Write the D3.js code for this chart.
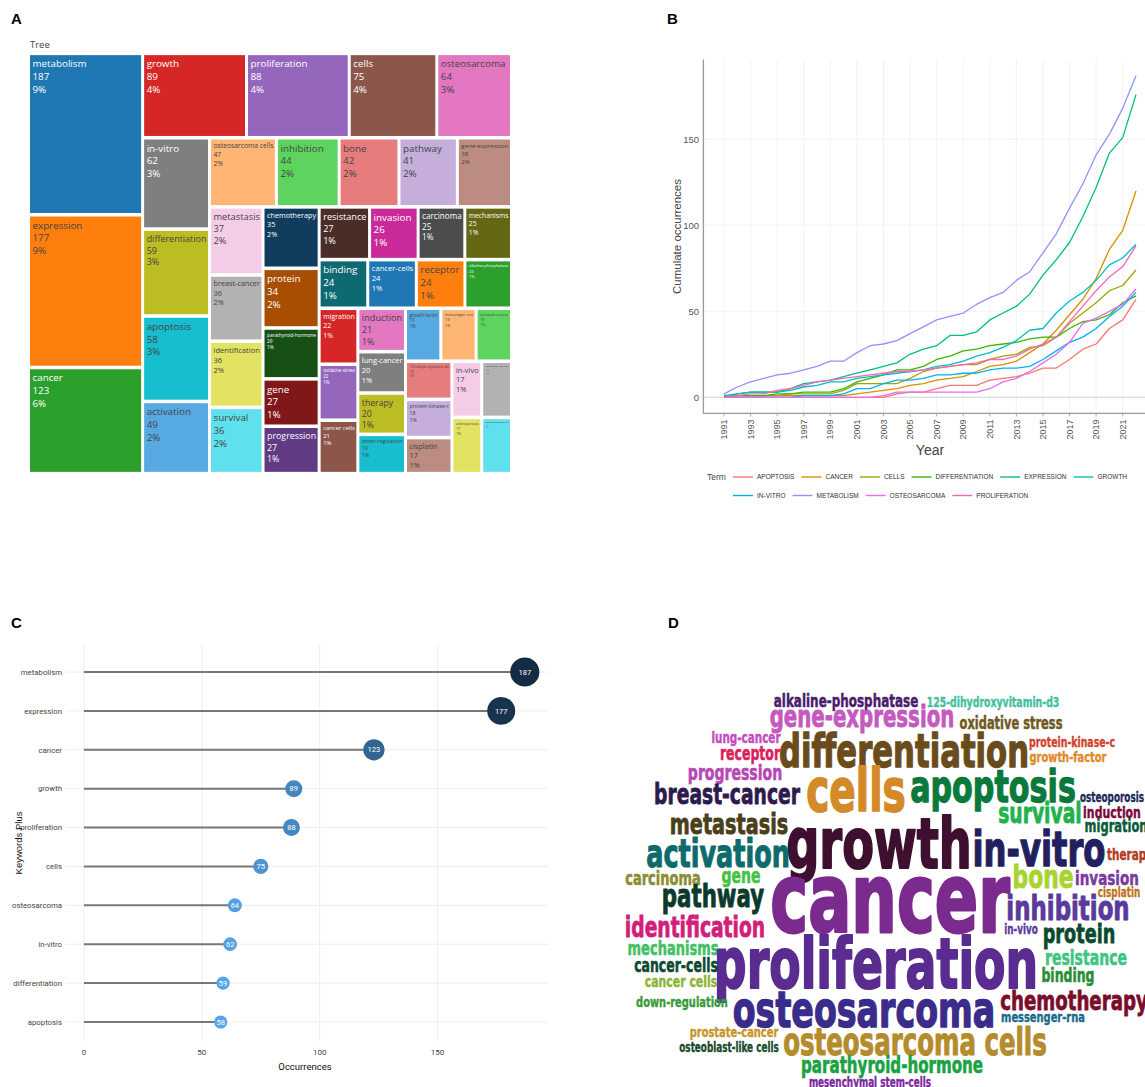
<!DOCTYPE html>
<html>
<head>
<meta charset="utf-8">
<script src="https://cdn.jsdelivr.net/npm/d3@7"></script>
<style>
  html, body { margin: 0; padding: 0; background: #fff; }
  svg { display: block; }
</style>
</head>
<body>
<svg id="fig" width="1145" height="1087"></svg>
<script>
// ---------------- Keyword occurrences (treemap, lollipop, word cloud) ----------------
const keywords = ["metabolism","expression","cancer","growth","proliferation","cells","osteosarcoma","in-vitro",
  "differentiation","apoptosis","activation","osteosarcoma cells","inhibition","bone","pathway","gene-expression",
  "metastasis","breast-cancer","identification","survival","chemotherapy","protein","parathyroid-hormone","gene",
  "progression","resistance","invasion","carcinoma","mechanisms","binding","cancer-cells","receptor",
  "alkaline-phosphatase","migration","oxidative stress","cancer cells","induction","lung-cancer","therapy",
  "down-regulation","growth-factor","messenger-rna","prostate-cancer","125-dihydroxyvitamin-d3","protein-kinase-c",
  "cisplatin","in-vivo","osteoblast-like cells","osteoporosis","mesenchymal stem-cells"];
const keywordCounts = [187,177,123,89,88,75,64,62,59,58,49,47,44,42,41,38,37,36,36,36,35,34,29,27,27,27,26,25,25,
  24,24,24,23,22,22,21,21,20,20,19,19,19,19,18,18,17,17,17,17,17];

// ---------------- Cumulative occurrences per year ----------------
const years = [1991,1992,1993,1994,1995,1996,1997,1998,1999,2000,2001,2002,2003,2004,2005,2006,
  2007,2008,2009,2010,2011,2012,2013,2014,2015,2016,2017,2018,2019,2020,2021,2022];
const termNames = ["APOPTOSIS","CANCER","CELLS","DIFFERENTIATION","EXPRESSION","GROWTH",
  "IN-VITRO","METABOLISM","OSTEOSARCOMA","PROLIFERATION"];
const apoptosisCum      = [0,0,0,0,0,0,0,0,0,0,0,0,0,2,3,3,5,7,7,7,10,11,12,14,17,17,22,28,31,40,45,57];
const cancerCum         = [0,1,1,1,1,1,1,1,1,1,2,3,4,5,7,8,10,11,12,15,18,19,21,26,31,39,48,57,69,86,97,120];
const cellsCum          = [0,1,1,1,1,2,2,2,2,4,8,8,8,8,11,15,17,18,19,19,22,24,25,29,30,35,43,49,55,62,65,74];
const differentiationCum= [0,1,1,1,2,2,3,3,3,5,9,11,13,16,16,18,22,24,27,28,30,31,32,34,35,35,40,44,45,48,55,59];
const expressionCum     = [1,2,3,3,3,5,8,9,10,12,14,16,18,20,25,28,30,36,36,38,45,49,53,60,71,80,90,105,122,142,151,176];
const growthCum         = [0,2,3,3,3,4,6,7,9,9,11,12,13,14,15,16,18,19,21,24,26,29,33,39,40,49,56,61,68,77,81,89];
const inVitroCum        = [0,0,0,0,0,0,1,1,1,2,5,5,8,10,10,11,13,13,14,14,16,17,17,18,22,27,32,35,40,47,53,61];
const metabolismCum     = [2,6,9,11,13,14,16,18,21,21,26,30,31,33,37,41,45,47,49,54,58,61,68,73,84,95,110,124,141,153,168,187];
const osteosarcomaCum   = [0,0,0,0,0,0,0,0,0,0,0,0,1,3,3,3,3,3,3,3,5,9,11,15,20,25,32,43,46,50,54,63];
const proliferationCum  = [0,1,2,2,4,5,7,9,10,11,12,13,14,15,15,16,17,18,19,20,22,22,24,28,31,35,44,53,62,70,76,88];
const termSeries = [apoptosisCum,cancerCum,cellsCum,differentiationCum,expressionCum,growthCum,
  inVitroCum,metabolismCum,osteosarcomaCum,proliferationCum];
const yearTicks = [1991,1993,1995,1997,1999,2001,2003,2005,2007,2009,2011,2013,2015,2017,2019,2021];
const cumTicks = [0,50,100,150];

// ---------------- Lollipop: ten most frequent keywords ----------------
const topWords = keywords.slice(0, 10);
const topCounts = keywordCounts.slice(0, 10);
const occTicks = [0,50,100,150];

// ---------------- Word cloud (terms drawn, placement spots in a 525 x 400 frame) ----------------
const cloudWords = ["alkaline-phosphatase","125-dihydroxyvitamin-d3","gene-expression","oxidative stress","lung-cancer",
  "differentiation","protein-kinase-c","growth-factor","receptor","progression","breast-cancer","cells","apoptosis",
  "osteoporosis","metastasis","growth","survival","induction","migration","activation","in-vitro","therapy",
  "carcinoma","gene","cancer","bone","invasion","cisplatin","pathway","inhibition","identification","in-vivo",
  "protein","mechanisms","proliferation","resistance","cancer-cells","binding","cancer cells","down-regulation",
  "osteosarcoma","chemotherapy","messenger-rna","prostate-cancer","osteoblast-like cells","osteosarcoma cells",
  "parathyroid-hormone","mesenchymal stem-cells"];
const cloudSpots = [[226,17],[373,17],[242,37],[391,39],[126,53],[284,77],[452,57],[448,72],[130,70],[115,90],
  [107,114],[236,121],[373,112],[492,112],[109,144],[259,178],[420,133],[492,128],[496,142],[98,177],[419,176],
  [510,170],[43,195],[121,193],[270,242],[423,198],[487,195],[499,207],[93,217],[448,230],[75,247],[401,244],
  [459,253],[53,265],[256,298],[466,275],[56,282],[448,292],[61,297],[62,317],[244,337],[454,320],[423,332],
  [114,347],[109,362],[295,365],[272,383],[250,397]];
const cloudColors = ["#4a1d6c","#44c0a0","#c45ac0","#6e5a1e","#c34cbe","#6a4c1c","#d1452f","#e08a2a","#dc1e5c",
  "#b548b4","#2e1a4e","#d48a28","#0a7a3c","#1a2858","#4a3f1a","#3e0f2e","#22b24c","#7a0a3c","#0b5a3a","#0e6b6b",
  "#231f5f","#b23c1e","#8c8c32","#46c046","#7b2a8e","#a8d432","#7a3a9e","#c0741e","#0b3a2c","#5a3a9c","#d2207a",
  "#5a3a9c","#0a4a2c","#44c064","#5a2c90","#40c482","#0b4a30","#2a8c34","#8cb43a","#3a9a3a","#3a2c8a","#7a0c2c",
  "#1a6a8a","#c8962c","#1a4a2e","#b48c2c","#1aa244","#7a2a9c"];

// ---------------- Styles ----------------
const colorway = ["#1f77b4","#ff7f0e","#2ca02c","#d62728","#9467bd","#8c564b","#e377c2","#7f7f7f","#bcbd22","#17becf"];
const termColors = ["#F8766D","#D89000","#A3A500","#39B600","#00BF7D","#00BFC4","#00B0F6","#9590FF","#E76BF3","#FF62BC"];

const svg = d3.select("#fig");
const SANS = "'Liberation Sans', Arial, sans-serif";

// panel tags
const tags = [["A",11,24],["B",667,24],["C",11,628],["D",668,628]];
svg.selectAll("text.tag").data(tags).join("text").attr("class","tag")
  .attr("x", d => d[1]).attr("y", d => d[2]).text(d => d[0])
  .style("font-family", SANS).style("font-weight","bold").style("font-size","15px").attr("fill","#000");

// ======================= A: treemap =======================
(function treemapPanel() {
  function shiftL(hex, delta) {
    const c = d3.hsl(hex);
    c.l = Math.max(0, Math.min(1, c.l + delta));
    return c.formatHex();
  }
  // base colours, then lightened and darkened versions
  const palette = colorway.concat(colorway.map(c => shiftL(c, 0.2)), colorway.map(c => shiftL(c, -0.2)));
  const total = d3.sum(keywordCounts);

  svg.append("text").attr("x", 30).attr("y", 47.5).text("Tree")
    .style("font-family","'Open Sans', sans-serif").style("font-size","9.5px").attr("fill","#444");

  // tiles are computed on a slightly flatter frame, then stretched to the panel height
  const W = 480, H = 417, frameH = 381.5;
  const root = d3.hierarchy({children: keywords.map((k, i) => ({name: k, value: keywordCounts[i], idx: i}))})
    .sum(d => d.value || 0);
  d3.treemap().tile(d3.treemapSquarify.ratio(1)).size([W, frameH]).paddingInner(3)(root);
  const sy = d3.scaleLinear().domain([0, frameH]).range([0, H]);
  const gap = 3 * (H / frameH - 1) / 2;

  const g = svg.append("g").attr("transform", "translate(30,55)");
  const leaf = g.selectAll("g").data(root.leaves()).join("g")
    .attr("transform", d => `translate(${d.x0},${sy(d.y0) + gap})`);
  const tileH = d => sy(d.y1) - sy(d.y0) - 2 * gap;
  leaf.append("rect")
    .attr("width", d => d.x1 - d.x0).attr("height", tileH)
    .attr("fill", d => palette[d.data.idx % palette.length]);

  const base = 9.8;
  leaf.each(function(d) {
    const w = d.x1 - d.x0, h = tileH(d);
    const fill = d3.rgb(palette[d.data.idx % palette.length]);
    const light = (fill.r * 299 + fill.g * 587 + fill.b * 114) / 1000 >= 128;
    const lines = [d.data.name, String(d.data.value), Math.round(100 * d.data.value / total) + "%"];
    const t = d3.select(this).append("text")
      .style("font-family","'Open Sans', sans-serif").style("font-size", base + "px")
      .attr("fill", light ? "#444" : "#fff");
    const spans = t.selectAll("tspan").data(lines).join("tspan").attr("x", 2.5).text(s => s);
    const maxW = d3.max(spans.nodes(), n => n.getComputedTextLength());
    const fs = Math.min(base, base * (w - 4) / maxW, (h - 4) / (3 * 1.3));
    t.style("font-size", fs + "px");
    spans.attr("y", (s, j) => 1.8 + fs * 1.05 + j * fs * 1.3);
  });
})();

// ======================= B: cumulative occurrences =======================
(function linePanel() {
  const x = d3.scaleLinear().domain([1989.45, 2023.55]).range([703.4, 1156.6]);
  const y = d3.scaleLinear().domain([-9.35, 196.35]).range([413.4, 59.6]);
  const g = svg.append("g");

  g.selectAll("line.vg").data(yearTicks).join("line")
    .attr("x1", d => x(d)).attr("x2", d => x(d)).attr("y1", y.range()[1]).attr("y2", y.range()[0])
    .attr("stroke", "#efefef").attr("stroke-width", 0.8);
  g.selectAll("line.hg").data(cumTicks).join("line")
    .attr("x1", x.range()[0]).attr("x2", x.range()[1]).attr("y1", d => y(d)).attr("y2", d => y(d))
    .attr("stroke", d => d === 0 ? "#cfcfcf" : "#efefef").attr("stroke-width", d => d === 0 ? 1.1 : 0.8);

  // axis lines and ticks
  g.append("line").attr("x1", x.range()[0]).attr("x2", x.range()[0]).attr("y1", y.range()[1]).attr("y2", y.range()[0])
    .attr("stroke", "#999").attr("stroke-width", 1.3);
  g.append("line").attr("x1", x.range()[0]).attr("x2", x.range()[1]).attr("y1", y.range()[0]).attr("y2", y.range()[0])
    .attr("stroke", "#999").attr("stroke-width", 1.3);
  g.selectAll("line.xt").data(yearTicks).join("line")
    .attr("x1", d => x(d)).attr("x2", d => x(d)).attr("y1", y.range()[0]).attr("y2", y.range()[0] + 3)
    .attr("stroke", "#999").attr("stroke-width", 0.8);

  g.selectAll("text.yl").data(cumTicks).join("text")
    .attr("x", 699).attr("y", d => y(d)).attr("dy", "0.35em").attr("text-anchor", "end")
    .text(d => d).style("font-family", SANS).style("font-size", "9.5px").attr("fill", "#555");
  g.selectAll("text.xl").data(yearTicks).join("text")
    .attr("transform", d => `translate(${x(d)},${y.range()[0] + 6}) rotate(-90)`)
    .attr("dy", "0.35em").attr("text-anchor", "end")
    .text(d => d).style("font-family", SANS).style("font-size", "9px").attr("fill", "#555");

  g.append("text").attr("x", 930).attr("y", 455).attr("text-anchor", "middle").text("Year")
    .style("font-family", SANS).style("font-size", "14px").attr("fill", "#444");
  g.append("text").attr("transform", `translate(681,${(y.range()[0] + y.range()[1]) / 2}) rotate(-90)`)
    .attr("text-anchor", "middle").text("Cumulate occurrences")
    .style("font-family", SANS).style("font-size", "11.5px").attr("fill", "#444");

  const line = d3.line().x((v, i) => x(years[i])).y(v => y(v));
  g.append("g").selectAll("path").data(termSeries).join("path")
    .attr("d", line).attr("fill", "none")
    .attr("stroke", (s, i) => termColors[i]).attr("stroke-width", 1.3).attr("stroke-linejoin", "round");

  // legend
  const lg = g.append("g");
  lg.append("text").attr("x", 707).attr("y", 477).attr("dy", "0.35em").text("Term")
    .style("font-family", SANS).style("font-size", "8.5px").attr("fill", "#444");
  const rows = [[0, 6], [6, 10]];
  const rowY = [477, 495.5];
  rows.forEach((r, ri) => {
    let cx = 733;
    for (let i = r[0]; i < r[1]; i++) {
      lg.append("line").attr("x1", cx).attr("x2", cx + 20).attr("y1", rowY[ri]).attr("y2", rowY[ri])
        .attr("stroke", termColors[i]).attr("stroke-width", 1.4);
      const t = lg.append("text").attr("x", cx + 24).attr("y", rowY[ri]).attr("dy", "0.35em")
        .text(termNames[i]).style("font-family", SANS).style("font-size", "6.5px").attr("fill", "#333");
      cx = cx + 24 + t.node().getComputedTextLength() + 7;
    }
  });
})();

// ======================= C: lollipop =======================
(function lollipopPanel() {
  const x = d3.scaleLinear().domain([0, 196]).range([84, 546]);
  const y = d3.scalePoint().domain(topWords).range([672, 1022]);
  const r = d3.scaleLinear().domain([d3.min(topCounts), d3.max(topCounts)]).range([6.6, 14.6]);
  const col = d3.scaleLinear().domain([d3.min(topCounts), d3.max(topCounts)])
    .range(["#56A6EA", "#132B43"]).interpolate(d3.interpolateLab);
  const g = svg.append("g");
  const LAB = "Roboto, 'Open Sans', sans-serif";

  g.selectAll("line.vg").data(occTicks).join("line")
    .attr("x1", d => x(d)).attr("x2", d => x(d)).attr("y1", 645).attr("y2", 1041)
    .attr("stroke", "#eeeeee").attr("stroke-width", 1);
  g.selectAll("line.hg").data(topWords).join("line")
    .attr("x1", 66).attr("x2", 548).attr("y1", d => y(d)).attr("y2", d => y(d))
    .attr("stroke", "#eeeeee").attr("stroke-width", 1);

  g.selectAll("line.stem").data(topWords).join("line")
    .attr("x1", x(0)).attr("x2", (d, i) => x(topCounts[i])).attr("y1", d => y(d)).attr("y2", d => y(d))
    .attr("stroke", "#777").attr("stroke-width", 2);
  g.selectAll("circle").data(topWords).join("circle")
    .attr("cx", (d, i) => x(topCounts[i])).attr("cy", d => y(d)).attr("r", (d, i) => r(topCounts[i]))
    .attr("fill", (d, i) => col(topCounts[i]));
  g.selectAll("text.val").data(topWords).join("text")
    .attr("x", (d, i) => x(topCounts[i])).attr("y", d => y(d)).attr("dy", "0.35em").attr("text-anchor", "middle")
    .text((d, i) => topCounts[i]).style("font-family", LAB).style("font-size", "7.5px").attr("fill", "#fff");

  g.selectAll("text.cat").data(topWords).join("text")
    .attr("x", 62).attr("y", d => y(d)).attr("dy", "0.35em").attr("text-anchor", "end")
    .text(d => d).style("font-family", LAB).style("font-size", "7.8px").attr("fill", "#444");
  g.selectAll("text.tick").data(occTicks).join("text")
    .attr("x", d => x(d)).attr("y", 1055).attr("text-anchor", "middle")
    .text(d => d).style("font-family", LAB).style("font-size", "8px").attr("fill", "#444");
  g.append("text").attr("x", 305).attr("y", 1070).attr("text-anchor", "middle").text("Occurrences")
    .style("font-family", LAB).style("font-size", "9.5px").attr("fill", "#111");
  g.append("text").attr("transform", "translate(22,843) rotate(-90)").attr("text-anchor", "middle")
    .text("Keywords Plus").style("font-family", SANS).style("font-size", "9.5px").attr("fill", "#111");
})();

// ======================= D: word cloud =======================
(function cloudPanel() {
  const countOf = new Map(keywords.map((k, i) => [k, keywordCounts[i]]));
  const sx = d3.scaleLinear().domain([0, 525]).range([620, 1145]);
  const sy = d3.scaleLinear().domain([0, 400]).range([690, 1090]);
  const size = d3.scaleLinear().domain([0, 123]).range([0, 100]);
  svg.append("g").selectAll("text").data(cloudWords).join("text")
    .attr("transform", (w, i) => `translate(${sx(cloudSpots[i][0])},${sy(cloudSpots[i][1])}) scale(0.64,0.96)`)
    .attr("text-anchor", "middle")
    .style("font-family", "'DejaVu Sans', sans-serif").style("font-weight", "bold")
    .style("font-size", w => size(countOf.get(w)) + "px")
    .attr("fill", (w, i) => cloudColors[i])
    .attr("stroke", (w, i) => cloudColors[i])
    .attr("stroke-width", w => size(countOf.get(w)) * 0.03)
    .attr("stroke-linejoin", "round")
    .text(w => w);
})();
</script>
</body>
</html>
